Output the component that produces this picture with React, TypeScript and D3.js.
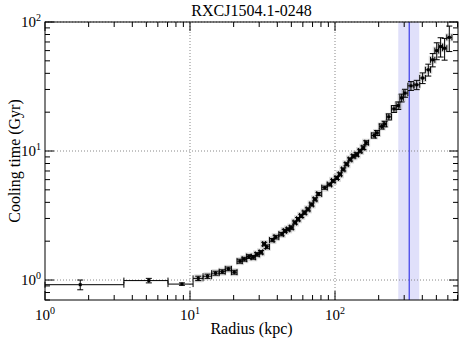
import React from "react";
import * as d3 from "d3";

// cooling time profile
const radius = [
  1.75, 5.2, 8.8, 11.4, 13.2, 15.0, 16.7, 18.4, 20.2, 22.1, 23.7, 25.5, 27.3, 29.0, 30.9,
  32.5, 33.8, 37.0, 39.0, 42.9, 45.0, 47.5, 50.0, 53.0, 55.6, 58.5, 61.6, 65.0, 69.0, 72.8,
  77.0, 85.0, 92.0, 97.0, 103, 108, 114, 120, 127, 134, 141, 149, 157, 164, 186, 195, 210,
  220, 235, 255, 273, 288, 304, 334, 366, 402, 440, 472, 503, 535, 570, 614,
];
const radiusLo = [
  1.0, 3.5, 7.05, 10.5, 12.3, 14.1, 15.9, 17.5, 19.3, 21.1, 22.9, 24.6, 26.4, 28.2, 30.0,
  31.7, 33.2, 35.3, 38.0, 41.0, 44.0, 46.2, 48.7, 51.5, 54.3, 57.0, 60.0, 63.3, 67.0, 70.9,
  74.9, 81.0, 88.4, 94.5, 100, 105.5, 111, 117, 123.5, 130.5, 137.5, 145, 153, 160.5, 178,
  190, 202, 215, 227, 245, 264, 280, 296, 318, 350, 384, 420, 456, 488, 519, 552, 590,
];
const radiusHi = [
  3.5, 7.05, 10.5, 12.3, 14.1, 15.9, 17.5, 19.3, 21.1, 22.9, 24.6, 26.4, 28.2, 30.0, 31.7,
  33.2, 35.3, 38.0, 41.0, 44.0, 46.2, 48.7, 51.5, 54.3, 57.0, 60.0, 63.3, 67.0, 70.9, 74.9,
  81.0, 88.4, 94.5, 100, 105.5, 111, 117, 123.5, 130.5, 137.5, 145, 153, 160.5, 170, 190,
  202, 215, 227, 245, 264, 280, 296, 318, 350, 384, 420, 456, 488, 519, 552, 590, 640,
];
const tcool = [
  0.92, 0.99, 0.93, 1.03, 1.07, 1.13, 1.16, 1.22, 1.15, 1.40, 1.45, 1.52, 1.50, 1.58, 1.64,
  1.90, 1.81, 2.04, 2.15, 2.27, 2.40, 2.47, 2.55, 2.79, 2.96, 3.14, 3.33, 3.53, 3.85, 4.22,
  4.64, 5.20, 5.50, 5.87, 6.18, 6.60, 7.2, 7.9, 8.6, 9.1, 9.4, 10.0, 10.6, 11.6, 13.2, 13.8,
  15.5, 16.2, 18.4, 21.2, 22.5, 25.8, 28.1, 32.0, 32.6, 36.8, 42.6, 50.9, 60.0, 64.5, 62.6, 76,
];
const tcoolErr = [
  0.08, 0.04, 0.02, 0.04, 0.04, 0.04, 0.04, 0.04, 0.04, 0.05, 0.05, 0.05, 0.05, 0.05, 0.05,
  0.06, 0.06, 0.06, 0.07, 0.07, 0.07, 0.07, 0.08, 0.08, 0.09, 0.09, 0.1, 0.1, 0.11, 0.12,
  0.13, 0.15, 0.15, 0.16, 0.17, 0.18, 0.2, 0.22, 0.25, 0.27, 0.3, 0.32, 0.35, 0.4, 0.6, 0.6,
  0.7, 0.8, 1.0, 1.3, 1.5, 1.8, 2.0, 2.5, 2.7, 3.5, 4.5, 6, 9, 11, 12, 17,
];

// r500 marker and its uncertainty band
const rMark = 325;
const rBand = [273, 381];

const title = "RXCJ1504.1-0248";
const xDecades = [0, 1, 2];
const yDecades = [0, 1, 2];

const W = 464;
const H = 343;
const m = { left: 45, right: 6, top: 22, bottom: 43 };

const App = () => {
  const x = d3.scaleLog().domain([1, 705]).range([m.left, W - m.right]);
  const y = d3.scaleLog().domain([0.7, 100]).range([H - m.bottom, m.top]);
  const [x0, x1] = x.range();
  const [y0, y1] = y.range();

  const minorX: number[] = [];
  for (const d of xDecades) for (let k = 2; k <= 9; k++) {
    const v = k * Math.pow(10, d);
    if (v < 705) minorX.push(v);
  }
  const minorY: number[] = [];
  for (const d of [-1, 0, 1]) for (let k = 2; k <= 9; k++) {
    const v = k * Math.pow(10, d);
    if (v > 0.7 && v < 100) minorY.push(v);
  }

  const serif = "'Liberation Serif', 'Times New Roman', serif";
  const pts = radius.map((r, i) => ({
    r, lo: radiusLo[i], hi: radiusHi[i], t: tcool[i], e: tcoolErr[i],
  }));

  return (
    <svg width={W} height={H} style={{ position: "absolute", left: 0, top: 0 }} fontFamily={serif}>
      <rect width={W} height={H} fill="#fff" />
      {/* band */}
      <rect x={x(rBand[0])} y={y1} width={x(rBand[1]) - x(rBand[0])} height={y0 - y1} fill="#e0e0fa" />
      {/* grid */}
      {[10, 100].map((v) => (
        <line key={"gx" + v} x1={x(v)} x2={x(v)} y1={y0} y2={y1} stroke="#888" strokeDasharray="1,2" />
      ))}
      {[1, 10, 100].map((v) => (
        <line key={"gy" + v} x1={x0} x2={x1} y1={y(v)} y2={y(v)} stroke="#888" strokeDasharray="1,2" />
      ))}
      <line x1={x(rMark)} x2={x(rMark)} y1={y0} y2={y1} stroke="#3a3ae8" strokeWidth={1.2} />
      {/* data halo */}
      {pts.map((p, i) => (
        <rect key={"h" + i} x={x(p.r) - 4} y={y(p.t) - 4} width={8} height={8} fill="#bbb" opacity={i < 3 ? 0 : 0.55} />
      ))}
      {/* error bars */}
      {pts.map((p, i) => {
        const cx = x(p.r), cy = y(p.t);
        const ya = y(p.t - p.e), yb = y(p.t + p.e);
        const xa = x(p.lo), xb = x(p.hi);
        return (
          <g key={"p" + i} stroke="#000" strokeWidth={1}>
            <line x1={xa} x2={xb} y1={cy} y2={cy} />
            <line x1={xa} x2={xa} y1={cy - 3} y2={cy + 3} />
            <line x1={xb} x2={xb} y1={cy - 3} y2={cy + 3} />
            <line x1={cx} x2={cx} y1={ya} y2={yb} />
            <line x1={cx - 3} x2={cx + 3} y1={ya} y2={ya} />
            <line x1={cx - 3} x2={cx + 3} y1={yb} y2={yb} />
            <rect x={cx - 1.5} y={cy - 1.5} width={3} height={3} fill="#000" stroke="none" />
          </g>
        );
      })}
      {/* frame and ticks */}
      <rect x={x0} y={y1} width={x1 - x0} height={y0 - y1} fill="none" stroke="#000" />
      {xDecades.map((d) => {
        const px = x(Math.pow(10, d));
        return (
          <g key={"mx" + d} stroke="#000">
            <line x1={px} x2={px} y1={y0} y2={y0 - 9} />
            <line x1={px} x2={px} y1={y1} y2={y1 + 9} />
          </g>
        );
      })}
      {minorX.map((v) => (
        <g key={"nx" + v} stroke="#000">
          <line x1={x(v)} x2={x(v)} y1={y0} y2={y0 - 5} />
          <line x1={x(v)} x2={x(v)} y1={y1} y2={y1 + 5} />
        </g>
      ))}
      {[1, 10, 100].map((v) => (
        <g key={"my" + v} stroke="#000">
          <line x1={x0} x2={x0 + 9} y1={y(v)} y2={y(v)} />
          <line x1={x1} x2={x1 - 9} y1={y(v)} y2={y(v)} />
        </g>
      ))}
      {minorY.map((v) => (
        <g key={"ny" + v} stroke="#000">
          <line x1={x0} x2={x0 + 5} y1={y(v)} y2={y(v)} />
          <line x1={x1} x2={x1 - 5} y1={y(v)} y2={y(v)} />
        </g>
      ))}
      {/* tick labels */}
      {xDecades.map((d) => (
        <text key={"lx" + d} x={x(Math.pow(10, d))} y={y0 + 20} textAnchor="middle" fontSize={15}>
          10<tspan fontSize={10} dy={-6}>{d}</tspan>
        </text>
      ))}
      {yDecades.map((d) => (
        <text key={"ly" + d} x={x0 - 4} y={y(Math.pow(10, d)) + 5} textAnchor="end" fontSize={15}>
          10<tspan fontSize={10} dy={-6}>{d}</tspan>
        </text>
      ))}
      <text x={(x0 + x1) / 2} y={16} textAnchor="middle" fontSize={16}>{title}</text>
      <text x={(x0 + x1) / 2} y={334} textAnchor="middle" fontSize={16}>Radius (kpc)</text>
      <text transform={`translate(20,${(y0 + y1) / 2}) rotate(-90)`} textAnchor="middle" fontSize={16}>
        Cooling time (Gyr)
      </text>
    </svg>
  );
};

export default App;
